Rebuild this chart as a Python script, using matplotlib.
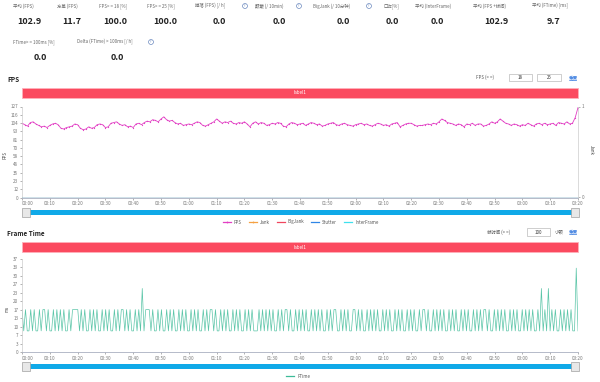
import matplotlib
matplotlib.use('Agg')
import matplotlib.pyplot as plt
from matplotlib.patches import Rectangle
from matplotlib.lines import Line2D
import numpy as np

plt.rcParams['font.family'] = ['Noto Sans CJK SC', 'DejaVu Sans']

W, H = 600, 382

# --- Kennzahlen oben ---
stat_labels = ['平均 (FPS)', '方差 (FPS)', 'FPS> = 18 [%]', 'FPS> = 25 [%]', '掉落 (FPS) [/ h]',
               '颠簸 (/ 10min)', 'BigJank (/ 10分钟)', '口吃[%]', '平均 (InterFrame)',
               '平均 (FPS +帧间)', '平均 (FTime) [ms]']
stat_values = ['102.9', '11.7', '100.0', '100.0', '0.0', '0.0', '0.0', '0.0', '0.0', '102.9', '9.7']
stat2_labels = ['FTime> = 100ms [%]', 'Delta (FTime) > 100ms [/ h]']
stat2_values = ['0.0', '0.0']

# --- FPS pro Sekunde ---
fps = [104, 102, 100, 105, 106, 103, 101, 99, 100, 98,
       101, 103, 104, 102, 97, 96, 98, 99, 100, 103,
       102, 97, 95, 96, 99, 97, 98, 102, 103, 102,
       98, 99, 104, 105, 106, 103, 101, 102, 99, 100,
       98, 103, 104, 102, 105, 107, 106, 109, 108, 106,
       110, 113, 109, 107, 108, 105, 103, 104, 101, 102,
       103, 102, 104, 106, 105, 101, 100, 102, 104, 106,
       110, 107, 104, 106, 105, 107, 104, 103, 105, 104,
       106, 103, 99, 104, 106, 103, 105, 104, 101, 102,
       104, 103, 105, 104, 100, 99, 103, 105, 104, 102,
       103, 104, 101, 103, 105, 104, 102, 103, 100, 101,
       103, 104, 105, 102, 101, 103, 104, 102, 101, 100,
       102, 103, 104, 102, 103, 101, 100, 102, 104, 103,
       101, 102, 100, 103, 104, 105, 99, 101, 103, 104,
       104, 102, 100, 101, 101, 102, 103, 102, 104, 103,
       106, 110, 108, 105, 104, 103, 101, 103, 102, 99,
       103, 102, 104, 101, 103, 103, 100, 101, 103, 106,
       104, 106, 110, 107, 104, 103, 101, 103, 102, 100,
       102, 101, 104, 102, 100, 103, 104, 102, 104, 102,
       103, 104, 101, 105, 104, 103, 106, 103, 104, 112,
       126]
jank = [0] * len(fps)
fps_tick_labels = ['0', '12', '23', '35', '46', '58', '70', '81', '93', '104', '116', '127']

# --- Frame Time (ms) ---
ftime = [16.7, 8.3, 16.7, 8.3, 8.3, 16.7, 8.3, 16.7, 8.3, 8.3, 16.7, 8.3, 16.7, 16.7, 8.3, 16.7, 8.3, 8.3, 16.7, 8.3,
         16.7, 8.3, 16.7, 8.3, 16.7, 8.3, 8.3, 16.7, 8.3, 16.7, 16.7, 16.7, 16.7, 8.3, 16.7, 8.3, 16.7, 8.3, 8.3, 16.7,
         8.3, 16.7, 8.3, 16.7, 8.3, 8.3, 16.7, 8.3, 16.7, 8.3, 16.7, 8.3, 8.3, 16.7, 8.3, 16.7, 8.3, 16.7, 16.7, 8.3,
         16.7, 8.3, 16.7, 8.3, 8.3, 16.7, 8.3, 16.7, 8.3, 25.0, 8.3, 16.7, 16.7, 16.7, 8.3, 16.7, 8.3, 8.3, 16.7, 8.3,
         16.7, 8.3, 8.3, 16.7, 8.3, 16.7, 8.3, 16.7, 8.3, 8.3, 16.7, 8.3, 16.7, 8.3, 16.7, 8.3, 8.3, 16.7, 8.3, 16.7,
         8.3, 16.7, 8.3, 8.3, 16.7, 8.3, 16.7, 8.3, 16.7, 16.7, 8.3, 16.7, 8.3, 8.3, 16.7, 8.3, 16.7, 8.3, 16.7, 8.3,
         8.3, 16.7, 8.3, 16.7, 8.3, 16.7, 8.3, 8.3, 16.7, 8.3, 16.7, 8.3, 16.7, 8.3, 8.3, 8.3, 16.7, 8.3, 16.7, 8.3,
         16.7, 8.3, 16.7, 8.3, 16.7, 8.3, 8.3, 16.7, 8.3, 16.7, 8.3, 16.7, 16.7, 8.3, 16.7, 8.3, 8.3, 16.7, 8.3, 16.7,
         8.3, 16.7, 8.3, 16.7, 8.3, 8.3, 16.7, 8.3, 16.7, 8.3, 16.7, 8.3, 16.7, 8.3, 8.3, 16.7, 8.3, 16.7, 8.3, 16.7,
         16.7, 8.3, 8.3, 16.7, 8.3, 16.7, 8.3, 16.7, 8.3, 8.3, 16.7, 16.7, 8.3, 16.7, 8.3, 16.7, 8.3, 8.3, 16.7, 8.3,
         16.7, 8.3, 16.7, 8.3, 16.7, 8.3, 8.3, 16.7, 8.3, 16.7, 8.3, 16.7, 8.3, 8.3, 16.7, 8.3, 16.7, 8.3, 16.7, 8.3,
         8.3, 16.7, 8.3, 16.7, 8.3, 16.7, 8.3, 8.3, 16.7, 8.3, 16.7, 16.7, 8.3, 16.7, 8.3, 8.3, 16.7, 8.3, 16.7, 8.3,
         16.7, 8.3, 16.7, 8.3, 8.3, 16.7, 8.3, 16.7, 8.3, 16.7, 8.3, 8.3, 16.7, 8.3, 16.7, 8.3, 16.7, 8.3, 8.3, 16.7,
         8.3, 16.7, 8.3, 16.7, 8.3, 16.7, 16.7, 8.3, 16.7, 8.3, 8.3, 16.7, 8.3, 16.7, 8.3, 16.7, 8.3, 16.7, 8.3, 8.3,
         16.7, 8.3, 16.7, 8.3, 16.7, 8.3, 8.3, 16.7, 8.3, 16.7, 8.3, 16.7, 8.3, 16.7, 8.3, 8.3, 16.7, 8.3, 25.0, 8.3,
         16.7, 8.3, 25.0, 8.3, 16.7, 8.3, 16.7, 8.3, 8.3, 16.7, 8.3, 16.7, 8.3, 16.7, 8.3, 16.7, 8.3, 8.3, 33.0, 8.3]
ft_tick_labels = ['0', '3', '7', '10', '13', '17', '20', '23', '27', '30', '33', '37']

duration = 200
time_labels = [f"{s // 60:02d}:{s % 60:02d}" for s in range(0, duration + 1, 10)]


def fx(x):
    return x / W


def fy(y):
    return 1 - y / H


fig = plt.figure(figsize=(W / 100, H / 100), dpi=100)

# Kennzahlen zeichnen
label_left = [13, 57, 99, 147, 195, 255, 313, 383, 415, 473, 532]
value_center = [29, 72, 115, 165, 219, 279, 343, 392, 437, 496, 553]
for lab, val, lx, vx in zip(stat_labels, stat_values, label_left, value_center):
    fig.text(fx(lx), fy(6), lab, fontsize=3.2, color='#666666', va='center', ha='left')
    fig.text(fx(vx), fy(21), val, fontsize=6.5, color='#222222', va='center', ha='center', fontweight='bold')
for lx, vx, lab, val in zip([13, 77], [40, 117], stat2_labels, stat2_values):
    fig.text(fx(lx), fy(42), lab, fontsize=3.2, color='#666666', va='center', ha='left')
    fig.text(fx(vx), fy(57), val, fontsize=6.5, color='#222222', va='center', ha='center', fontweight='bold')

# Fragezeichen-Symbole
for qx, qy in [(245, 6), (299, 6), (369, 6), (151, 42)]:
    fig.text(fx(qx), fy(qy), '?', fontsize=2.2, color='#4a6fb0', ha='center', va='center',
             bbox=dict(boxstyle='circle,pad=0.15', fc='white', ec='#4a6fb0', lw=0.4))


def red_bar(y0, y1):
    fig.add_artist(Rectangle((fx(22), fy(y1)), fx(578) - fx(22), fy(y0) - fy(y1),
                             transform=fig.transFigure, fc='#fb4a5f', ec='#ffb0ba', lw=0.6))
    fig.text(fx(300), fy((y0 + y1) / 2), 'label1', fontsize=3.3, color='white', ha='center', va='center')


def box(x0, x1, y0, y1, txt):
    fig.add_artist(Rectangle((fx(x0), fy(y1)), fx(x1) - fx(x0), fy(y0) - fy(y1),
                             transform=fig.transFigure, fc='white', ec='#bbbbbb', lw=0.5))
    fig.text(fx((x0 + x1) / 2), fy((y0 + y1) / 2), txt, fontsize=3.2, color='#333333', ha='center', va='center')


def slider(y0, y1):
    fig.add_artist(Rectangle((fx(26), fy(y1)), fx(575) - fx(26), fy(y0) - fy(y1),
                             transform=fig.transFigure, fc='#10a9e8', ec='none'))
    for hx in (22, 571):
        fig.add_artist(Rectangle((fx(hx), fy(y1 + 2)), fx(8), fy(y0 - 2) - fy(y1 + 2),
                                 transform=fig.transFigure, fc='#e8e8e8', ec='#a0a0a0', lw=0.5))


def style_axes(ax):
    for s in ('top', 'right'):
        ax.spines[s].set_visible(False)
    ax.spines['left'].set_color('#cccccc')
    ax.spines['left'].set_linewidth(0.5)
    ax.spines['bottom'].set_color('#aab0c0')
    ax.spines['bottom'].set_linewidth(0.6)
    ax.tick_params(length=1.5, width=0.4, labelsize=3.3, colors='#777777', pad=1.2)
    ax.set_xlim(0, duration)
    ax.set_xticks(range(0, duration + 1, 10))
    ax.set_xticklabels(time_labels)
    ax.get_xticklabels()[0].set_ha('left')


# ---------------- FPS ----------------
fig.text(fx(7), fy(79), 'FPS', fontsize=4.6, fontweight='bold', color='#222222', va='center')
fig.text(fx(476), fy(77.5), 'FPS (> =)', fontsize=3.2, color='#555555', va='center')
box(509, 532, 74, 81, '18')
box(537, 561, 74, 81, '25')
fig.text(fx(569), fy(77.5), '重置', fontsize=3.3, color='#3d7fe0', va='center')
red_bar(88, 98)

ax1 = fig.add_axes([fx(22), fy(197.5), fx(556), 91 / H])
style_axes(ax1)
t_fps = np.arange(len(fps))
ax1.plot(t_fps, fps, color='#e23fc4', lw=0.6, marker='o', ms=0.9, mew=0)
ax1.set_ylim(0, 127.5)
ax1.set_yticks(np.linspace(0, 127.5, 12))
ax1.set_yticklabels(fps_tick_labels)

ax2 = ax1.twinx()
ax2.set_ylim(0, 1)
ax2.set_yticks([0, 1])
ax2.set_yticklabels(['0', '1'])
for s in ('top', 'left', 'bottom'):
    ax2.spines[s].set_visible(False)
ax2.spines['right'].set_color('#cccccc')
ax2.spines['right'].set_linewidth(0.5)
ax2.tick_params(length=1.5, width=0.4, labelsize=3.3, colors='#777777', pad=1.2)
ax2.plot(t_fps, jank, color='#8fb9cc', lw=0.6, ls=(0, (1.2, 1.2)), clip_on=False)

fig.text(fx(5), fy(155), 'FPS', fontsize=3.2, color='#444444', rotation=90, ha='center', va='center')
fig.text(fx(591), fy(150), 'Jank', fontsize=3.2, color='#444444', rotation=270, ha='center', va='center')

slider(210, 215)

# Legende FPS
legend_items = [('FPS', '#e23fc4', 227, True), ('Jank', '#f5a142', 253, True),
                ('BigJank', '#f0465e', 281, False), ('Stutter', '#2f86e6', 315, False),
                ('InterFrame', '#3fe0ee', 348, False)]
for name, col, lx, dot in legend_items:
    fig.add_artist(Line2D([fx(lx - 4), fx(lx + 4)], [fy(222), fy(222)], color=col, lw=0.9,
                          transform=fig.transFigure))
    if dot:
        fig.add_artist(Line2D([fx(lx)], [fy(222)], color=col, marker='o', ms=1.3, mew=0,
                              transform=fig.transFigure))
    fig.text(fx(lx + 7), fy(222), name, fontsize=3.2, color='#555555', va='center')

# ---------------- Frame Time ----------------
fig.text(fx(7), fy(234), 'Frame Time', fontsize=4.6, fontweight='bold', color='#222222', va='center')
fig.text(fx(487), fy(232), '帧时间 (> =)', fontsize=3.2, color='#555555', va='center')
box(527, 550, 228, 236, '100')
fig.text(fx(555), fy(232), '小顿', fontsize=3.2, color='#555555', va='center')
fig.text(fx(569), fy(232), '重置', fontsize=3.3, color='#3d7fe0', va='center')
red_bar(242, 252)

ax3 = fig.add_axes([fx(22), fy(352), fx(556), 93 / H])
style_axes(ax3)
t_ft = np.linspace(0, duration, len(ftime))
ax3.plot(t_ft, ftime, color='#3dbb98', lw=0.5, alpha=0.85)
ax3.set_ylim(0, 36.6)
ax3.set_yticks(np.linspace(0, 36.6, 12))
ax3.set_yticklabels(ft_tick_labels)
fig.text(fx(7), fy(309), 'ms', fontsize=3.2, color='#444444', rotation=90, ha='center', va='center')

slider(364, 369)

fig.add_artist(Line2D([fx(286), fx(294)], [fy(376), fy(376)], color='#3dbb98', lw=0.9,
                      transform=fig.transFigure))
fig.text(fx(297), fy(376), 'FTime', fontsize=3.2, color='#555555', va='center')

fig.savefig('out.png', dpi=100)
